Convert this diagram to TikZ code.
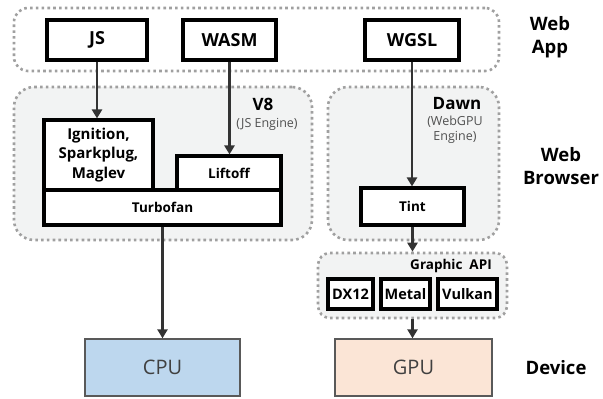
\documentclass[tikz,border=0pt]{standalone}
\usepackage{fontspec}
\setmainfont{Open Sans}
\usetikzlibrary{arrows.meta}
\definecolor{dotgray}{HTML}{A0A0A0}
\definecolor{panelfill}{HTML}{F2F3F3}
\definecolor{cpufill}{HTML}{BDD7EE}
\definecolor{gpufill}{HTML}{FBE5D6}
\definecolor{arrowc}{HTML}{333333}
\definecolor{subtext}{HTML}{505050}
\tikzset{
  container/.style={draw=dotgray, line width=2.6pt, dash pattern=on 2.6pt off 3.2pt, rounded corners=14pt, inner sep=0pt},
  srcbox/.style={draw=black, line width=3.2pt, fill=white, inner sep=0pt, font=\fontsize{18}{20}\selectfont\bfseries},
  engbox/.style={draw=black, line width=3.1pt, fill=white, inner sep=0pt, align=center, font=\fontsize{13.5}{19}\selectfont\bfseries},
  apibox/.style={draw=black, line width=3.3pt, fill=white, inner sep=0pt, font=\fontsize{14.5}{16}\selectfont\bfseries},
  devbox/.style={draw=black!65, line width=1.3pt, inner sep=0pt, text=black!75, font=\fontsize{20}{22}\selectfont},
  flow/.style={draw=arrowc, line width=2.6pt, -{Triangle[width=10pt,length=9pt]}},
  sidelabel/.style={align=center, font=\fontsize{18.5}{23}\selectfont\bfseries},
  title/.style={font=\fontsize{17}{19}\selectfont\bfseries},
  subtitle/.style={align=center, text=subtext, font=\fontsize{12.5}{15.5}\selectfont}
}
\begin{document}
\begin{tikzpicture}[x=1pt,y=-1pt]
\useasboundingbox (0,0) rectangle (603,399);
% containers
\node[container, minimum width=485pt, minimum height=63pt] (webapp) at (256.5,39.5) {};
\node[container, fill=panelfill, minimum width=298pt, minimum height=153pt, rounded corners=20pt] (v8) at (163,163.5) {};
\node[container, fill=panelfill, minimum width=171pt, minimum height=153pt, rounded corners=20pt] (dawn) at (413.5,163.5) {};
\node[container, fill=panelfill, minimum width=189pt, minimum height=65pt, rounded corners=12pt] (gapi) at (412.5,285.5) {};
% source boxes
\node[srcbox, minimum width=100pt, minimum height=40pt] (js) at (97,40) {JS};
\node[srcbox, minimum width=93pt, minimum height=40pt] (wasm) at (229.5,40) {WASM};
\node[srcbox, minimum width=94pt, minimum height=40pt] (wgsl) at (412,40) {WGSL};
% V8 internals
\node[engbox, minimum width=109pt, minimum height=70pt, font=\fontsize{15}{19.5}\selectfont\bfseries] (ign) at (98.5,155) {Ignition,\\Sparkplug,\\Maglev};
\node[engbox, minimum width=104pt, minimum height=34pt] (lift) at (229,173) {Liftoff};
\node[engbox, minimum width=237pt, minimum height=35pt] (turbo) at (162.5,207.5) {Turbofan};
\node[title] (v8t) at (263,104) {V8};
\node[subtitle] (v8s) at (267,124) {(JS Engine)};
% Dawn internals
\node[engbox, minimum width=103pt, minimum height=37pt] (tint) at (412.5,206.5) {Tint};
\node[title] (dawnt) at (457,104) {Dawn};
\node[subtitle] (dawns) at (455,130) {(WebGPU\\Engine)};
% Graphic API
\node[font=\fontsize{13.5}{15}\selectfont\bfseries] (gapit) at (451,266) {Graphic\ \ API};
\node[apibox, minimum width=45pt, minimum height=30pt] (dx) at (350.5,294) {DX12};
\node[apibox, minimum width=49pt, minimum height=30pt] (metal) at (405.5,294) {Metal};
\node[apibox, minimum width=59pt, minimum height=30pt] (vulkan) at (467.5,294) {Vulkan};
% devices
\node[devbox, fill=cpufill, minimum width=155pt, minimum height=57pt] (cpu) at (162.5,367.5) {CPU};
\node[devbox, fill=gpufill, minimum width=157pt, minimum height=57pt] (gpu) at (413.5,367.5) {GPU};
% side labels
\node[sidelabel] (lapp) at (550,37) {Web\\App};
\node[sidelabel] (lbrowser) at (561,166) {Web\\Browser};
\node[sidelabel] (ldevice) at (556,368) {Device};
% arrows
\draw[flow] (js.south) -- (js.south |- ign.north);
\draw[flow] (wasm.south) -- (wasm.south |- lift.north);
\draw[flow] (turbo.south) -- (turbo.south |- cpu.north);
\draw[flow] (wgsl.south) -- (wgsl.south |- tint.north);
\draw[flow] (tint.south) -- (tint.south |- gapi.north);
\draw[flow] (gapi.south -| tint.south) -- (tint.south |- gpu.north);
\end{tikzpicture}
\end{document}
